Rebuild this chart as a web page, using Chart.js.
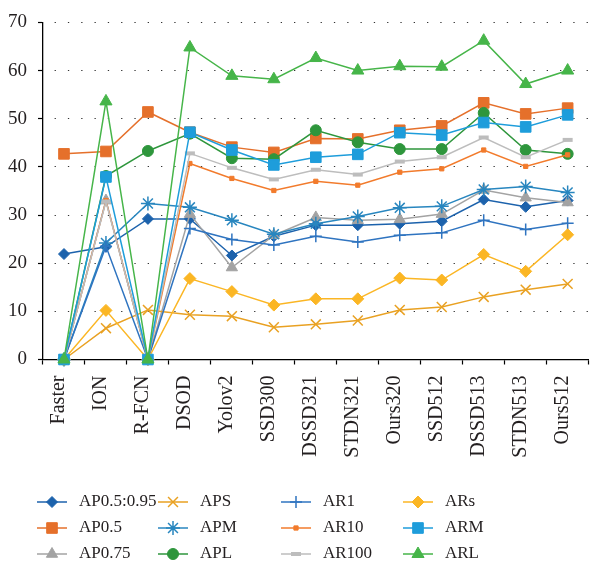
<!DOCTYPE html>
<html>
<head>
<meta charset="utf-8">
<script src="https://cdn.jsdelivr.net/npm/chart.js@4/dist/chart.umd.min.js"></script>
<style>
  html, body { margin: 0; padding: 0; background: #fff; overflow: hidden; }
  #wrap { width: 603px; height: 564px; }
</style>
</head>
<body>
<div id="wrap"><canvas id="chart" width="603" height="564"></canvas></div>
<script>
// detectors compared on each COCO metric
const categories = ['Faster', 'ION', 'R-FCN', 'DSOD', 'Yolov2', 'SSD300', 'DSSD321',
  'STDN321', 'Ours320', 'SSD512', 'DSSD513', 'STDN513', 'Ours512'];

const ap5095 = [21.9, 23.4, 29.2, 29.2, 21.6, 25.6, 27.9, 27.9, 28.2, 28.7, 33.2, 31.7, 33.0];
const ap50   = [42.7, 43.2, 51.4, 47.2, 44.1, 43.0, 45.9, 45.8, 47.6, 48.5, 53.3, 51.0, 52.2];
const ap75   = [0, 33.0, 0, 30.2, 19.1, 25.8, 29.5, 28.9, 29.1, 30.2, 35.2, 33.6, 32.6];
const aps    = [0, 6.5, 10.3, 9.3, 9.0, 6.7, 7.3, 8.1, 10.3, 10.9, 13.0, 14.5, 15.7];
const apm    = [0, 24.2, 32.4, 31.6, 28.9, 26.0, 28.2, 29.7, 31.5, 31.8, 35.3, 35.9, 34.7];
const apl    = [0, 38.1, 43.3, 46.9, 41.8, 41.6, 47.6, 45.1, 43.7, 43.7, 51.2, 43.5, 42.7];
const ar1    = [0, 23.5, 0, 27.2, 24.9, 23.8, 25.6, 24.4, 25.8, 26.3, 28.9, 27.0, 28.3];
const ar10   = [0, 33.0, 0, 40.7, 37.6, 35.1, 37.0, 36.2, 38.9, 39.6, 43.5, 40.1, 42.5];
const ar100  = [0, 32.8, 0, 42.8, 39.8, 37.4, 39.4, 38.4, 41.1, 42.0, 46.1, 42.0, 45.6];
const ars    = [0, 10.2, 0, 16.8, 14.1, 11.3, 12.6, 12.6, 16.9, 16.5, 21.8, 18.3, 25.9];
const arm    = [0, 37.9, 0, 47.2, 43.5, 40.4, 42.0, 42.6, 47.1, 46.6, 49.2, 48.3, 50.8];
const arl    = [0, 53.6, 0, 64.8, 58.9, 58.2, 62.6, 60.0, 60.9, 60.8, 66.2, 57.2, 60.0];

const seriesNames = ['AP0.5:0.95', 'AP0.5', 'AP0.75', 'APS', 'APM', 'APL',
  'AR1', 'AR10', 'AR100', 'ARs', 'ARM', 'ARL'];
const seriesValues = [ap5095, ap50, ap75, aps, apm, apl, ar1, ar10, ar100, ars, arm, arl];
const yTicks = [0, 10, 20, 30, 40, 50, 60, 70];

// colour, marker, marker radius, marker stroke
const styles = [
  ['#1c62ac', 'rectRot', 5.5, 1],
  ['#e5702b', 'rect', 7.5, 1],
  ['#a3a3a3', 'triangle', 6.5, 1],
  ['#e9a122', 'crossRot', 7, 1.5],
  ['#2886bf', 'star', 7, 1.5],
  ['#2e963c', 'circle', 5.5, 1],
  ['#2f74c0', 'cross', 6, 1.5],
  ['#f27b2c', 'rect', 3, 1],
  ['#bdbdbd', 'line', 5, 4],
  ['#fbb624', 'rectRot', 6, 1],
  ['#1e9ddb', 'rect', 7.5, 1],
  ['#46b549', 'triangle', 7, 1]
];

const FONT = 'Liberation Serif';
const TEXT = '#231f20';

const datasets = seriesNames.map((name, i) => {
  const [color, shape, r, bw] = styles[i];
  return {
    label: name,
    data: seriesValues[i],
    borderColor: color,
    backgroundColor: color,
    borderWidth: 1.5,
    pointStyle: shape,
    pointRadius: r,
    pointBorderWidth: bw,
    pointBackgroundColor: color,
    pointBorderColor: color,
    tension: 0,
    clip: false,
    order: seriesNames.length - i
  };
});

// legend laid out in a 4x3 grid, filled column by column
const legendCols = [37, 158, 281, 403];
const legendRows = [502, 528, 554];
const gridLegend = {
  id: 'gridLegend',
  afterDraw(chart) {
    const ctx = chart.ctx;
    chart.data.datasets.forEach((ds, i) => {
      const x = legendCols[Math.floor(i / 3)];
      const y = legendRows[i % 3];
      ctx.save();
      ctx.strokeStyle = ds.borderColor;
      ctx.lineWidth = 1.5;
      ctx.beginPath();
      ctx.moveTo(x, y);
      ctx.lineTo(x + 30, y);
      ctx.stroke();
      ctx.fillStyle = ds.pointBackgroundColor;
      ctx.strokeStyle = ds.pointBorderColor;
      ctx.lineWidth = ds.pointBorderWidth;
      Chart.helpers.drawPoint(ctx, {
        pointStyle: ds.pointStyle,
        radius: ds.pointRadius,
        rotation: 0,
        borderWidth: ds.pointBorderWidth
      }, x + 15, y);
      ctx.fillStyle = TEXT;
      ctx.font = '17px "' + FONT + '"';
      ctx.textBaseline = 'middle';
      ctx.textAlign = 'left';
      ctx.fillText(ds.label, x + 42, y);
      ctx.restore();
    });
  }
};

new Chart(document.getElementById('chart'), {
  type: 'line',
  data: { labels: categories, datasets },
  options: {
    responsive: false,
    animation: false,
    layout: { padding: { top: 17, right: -1, left: 0, bottom: 0 } },
    plugins: { legend: { display: false }, tooltip: { enabled: false } },
    scales: {
      x: {
        offset: true,
        grid: { drawOnChartArea: false, offset: true, tickLength: 5, tickColor: '#000', tickWidth: 1.2 },
        border: { color: '#000', width: 1.3 },
        ticks: {
          color: TEXT,
          font: { family: FONT, size: 20 },
          minRotation: 90,
          maxRotation: 90,
          autoSkip: false,
          labelOffset: -5,
          padding: 11
        },
        afterFit: s => { s.height = 564 - 359.5; }
      },
      y: {
        min: 0,
        max: 70,
        afterBuildTicks: s => { s.ticks = yTicks.map(v => ({ value: v })); },
        grid: { color: '#333', lineWidth: 1, tickLength: 5, tickColor: '#000', tickWidth: 1.2 },
        border: { color: '#000', width: 1.3, dash: [1.3, 12], dashOffset: 2 },
        ticks: { color: TEXT, font: { family: FONT, size: 19 }, padding: 11 },
        afterFit: s => { s.width = 43; }
      }
    }
  },
  plugins: [gridLegend]
});
</script>
</body>
</html>
